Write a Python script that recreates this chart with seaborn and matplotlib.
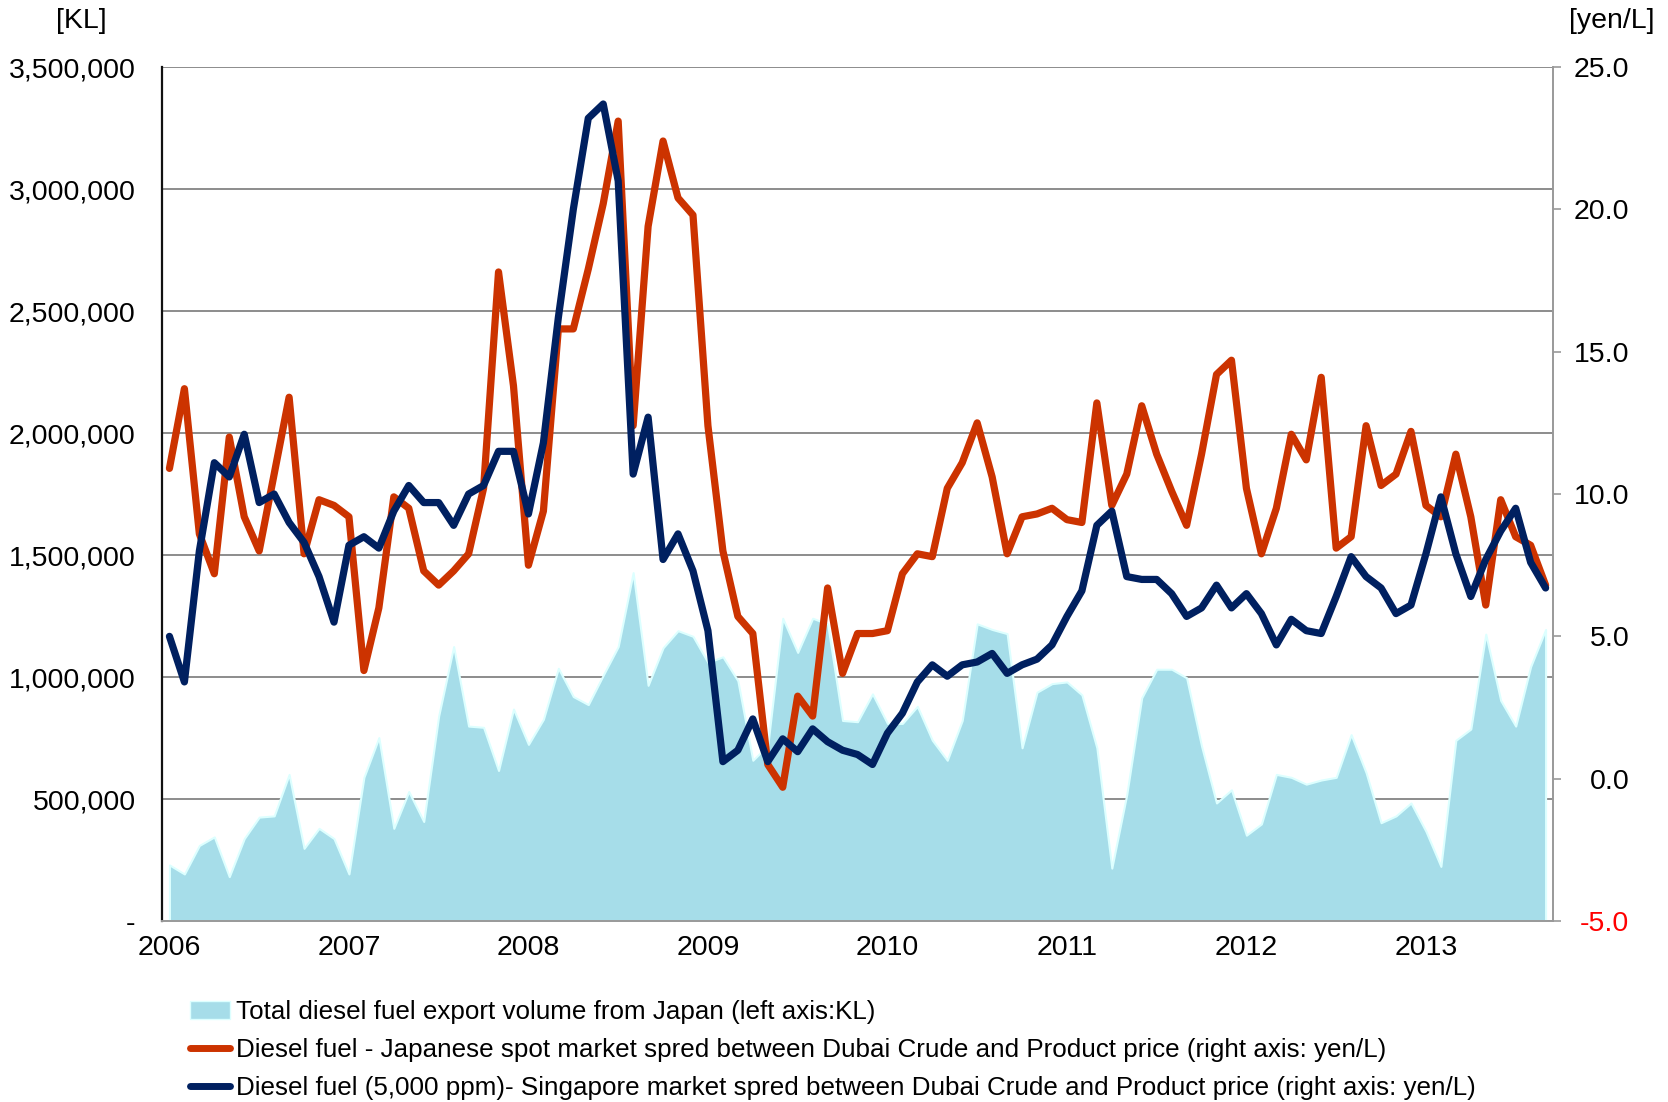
"""
Diesel fuel export volume from Japan vs. Dubai crude / product spreads,
monthly 2006-2013, redrawn with seaborn + matplotlib.
"""
import numpy as np
import pandas as pd
import matplotlib
matplotlib.use("Agg")
import matplotlib.pyplot as plt
import seaborn as sns
from matplotlib.lines import Line2D
from matplotlib.patches import Patch

# monthly data, Jan 2006 .. Sep 2013
volume_kl = [
    230, 193, 310, 345, 182, 338, 426, 431, 601, 298,
    380, 338, 193, 589, 752, 380, 531, 408, 841, 1125,
    799, 794, 617, 869, 724, 827, 1036, 920, 887, 1008,
    1125, 1428, 966, 1120, 1190, 1167, 1060, 1083, 985, 659,
    720, 1241, 1101, 1241, 1218, 822, 817, 931, 810, 810,
    880, 741, 659, 822, 1218, 1195, 1178, 710, 938, 973,
    980, 927, 710, 217, 519, 915, 1032, 1032, 997, 717,
    484, 538, 352, 398, 601, 589, 561, 578, 589, 764,
    608, 403, 431, 484, 368, 224, 741, 787, 1176, 904,
    799, 1043, 1195,
]
japan_spread = [
    10.9, 13.7, 8.6, 7.2, 12.0, 9.2, 8.0, 10.7, 13.4, 7.9,
    9.8, 9.6, 9.2, 3.8, 6.0, 9.9, 9.5, 7.3, 6.8, 7.3,
    7.9, 10.2, 17.8, 13.8, 7.5, 9.4, 15.8, 15.8, 17.9, 20.2,
    23.1, 12.4, 19.4, 22.4, 20.4, 19.8, 12.4, 8.0, 5.7, 5.1,
    0.5, -0.3, 2.9, 2.2, 6.7, 3.7, 5.1, 5.1, 5.2, 7.2,
    7.9, 7.8, 10.2, 11.1, 12.5, 10.6, 7.9, 9.2, 9.3, 9.5,
    9.1, 9.0, 13.2, 9.6, 10.7, 13.1, 11.4, 10.1, 8.9, 11.4,
    14.2, 14.7, 10.2, 7.9, 9.5, 12.1, 11.2, 14.1, 8.1, 8.5,
    12.4, 10.3, 10.7, 12.2, 9.6, 9.2, 11.4, 9.2, 6.1, 9.8,
    8.5, 8.2, 6.8,
]
singapore_spread = [
    5.0, 3.4, 8.0, 11.1, 10.6, 12.1, 9.7, 10.0, 9.0, 8.3,
    7.1, 5.5, 8.2, 8.5, 8.1, 9.4, 10.3, 9.7, 9.7, 8.9,
    10.0, 10.3, 11.5, 11.5, 9.3, 11.8, 16.2, 20.0, 23.2, 23.7,
    21.0, 10.7, 12.7, 7.7, 8.6, 7.3, 5.2, 0.6, 1.0, 2.1,
    0.6, 1.4, 0.95, 1.75, 1.3, 1.0, 0.85, 0.5, 1.6, 2.3,
    3.4, 4.0, 3.6, 4.0, 4.1, 4.4, 3.7, 4.0, 4.2, 4.7,
    5.7, 6.6, 8.9, 9.4, 7.1, 7.0, 7.0, 6.5, 5.7, 6.0,
    6.8, 6.0, 6.5, 5.8, 4.7, 5.6, 5.2, 5.1, 6.4, 7.8,
    7.1, 6.7, 5.8, 6.1, 7.9, 9.9, 7.9, 6.4, 7.7, 8.7,
    9.5, 7.6, 6.7,
]
year_labels = ["2006", "2007", "2008", "2009", "2010", "2011", "2012", "2013"]
left_ticks = [0, 500000, 1000000, 1500000, 2000000, 2500000, 3000000, 3500000]
right_ticks = [-5, 0, 5, 10, 15, 20, 25]

labels = [
    "Total diesel fuel export volume from Japan (left axis:KL)",
    "Diesel fuel - Japanese spot market spred between Dubai Crude and Product price (right axis: yen/L)",
    "Diesel fuel (5,000 ppm)- Singapore market spred between Dubai Crude and Product price (right axis: yen/L)",
]

AREA = "#a6dde9"
RED = "#cc3300"
NAVY = "#002060"
GRID = "#8c8c8c"
TICK_SIZE = 20.5


def main():
    df = pd.DataFrame({
        "month": np.arange(len(volume_kl)),
        "volume": np.array(volume_kl) * 1000,
        "japan": japan_spread,
        "singapore": singapore_spread,
    })

    sns.set_style("white")
    plt.rcParams["font.family"] = ["Liberation Sans", "DejaVu Sans"]
    plt.rcParams["text.color"] = "black"
    plt.rcParams["xtick.labelcolor"] = "black"
    plt.rcParams["ytick.labelcolor"] = "black"

    fig = plt.figure(figsize=(16.68, 11.02), dpi=100)
    ax = fig.add_axes([0.0971, 0.1642, 0.834, 0.775])
    ax2 = ax.twinx()

    # export volume area (left axis)
    ax.fill_between(df["month"], df["volume"], 0, color=AREA,
                    edgecolor="#ddffff", linewidth=1.5, zorder=2)
    ax.set_ylim(0, 3500000)
    ax.set_xlim(-0.5, len(df) - 0.5)
    ax.set_yticks(left_ticks)
    ax.set_yticklabels(["-" if v == 0 else f"{v:,}" for v in left_ticks])
    ax.yaxis.grid(True, color=GRID, linewidth=1.4)
    ax.set_axisbelow(True)
    ax.set_xticks(np.arange(0, len(df), 12))
    ax.set_xticklabels(year_labels)
    ax.tick_params(axis="y", length=0, pad=19, labelsize=TICK_SIZE, labelcolor="black")
    ax.tick_params(axis="x", length=0, pad=10, labelsize=TICK_SIZE, labelcolor="black")

    # spreads (right axis)
    sns.lineplot(data=df, x="month", y="japan", ax=ax2, color=RED,
                 linewidth=5.2, solid_joinstyle="round", solid_capstyle="round")
    sns.lineplot(data=df, x="month", y="singapore", ax=ax2, color=NAVY,
                 linewidth=5.2, solid_joinstyle="round", solid_capstyle="round")
    ax2.set_ylim(-5, 25)
    ax2.set_yticks(right_ticks)
    ax2.set_yticklabels([f"{v:.1f}" for v in right_ticks])
    ax2.tick_params(axis="y", length=6, width=1.2, color="#999999",
                    pad=49, labelsize=TICK_SIZE, direction="out", labelcolor="black")
    for lab in ax2.get_yticklabels():
        lab.set_horizontalalignment("right")
    ax2.get_yticklabels()[0].set_color("red")
    ax2.set_xlabel("")
    ax2.set_ylabel("")
    ax.set_xlabel("")
    ax.set_ylabel("")

    for a in (ax, ax2):
        for side in ("top", "left", "right", "bottom"):
            a.spines[side].set_visible(False)
    ax.spines["left"].set_visible(True)
    ax.spines["left"].set_color("#111111")
    ax.spines["left"].set_linewidth(1.6)
    ax.spines["bottom"].set_visible(True)
    ax.spines["bottom"].set_color("#999999")
    ax.spines["bottom"].set_linewidth(1.4)
    ax2.spines["right"].set_visible(True)
    ax2.spines["right"].set_color("#999999")
    ax2.spines["right"].set_linewidth(1.4)

    fig.text(0.049, 0.981, "[KL]", fontsize=TICK_SIZE, ha="center", va="center")
    fig.text(0.966, 0.981, "[yen/L]", fontsize=TICK_SIZE, ha="center", va="center")

    handles = [
        Patch(facecolor=AREA, edgecolor="#ddffff"),
        Line2D([], [], color=RED, linewidth=5, solid_capstyle="round"),
        Line2D([], [], color=NAVY, linewidth=5, solid_capstyle="round"),
    ]
    fig.legend(handles, labels, loc="upper left", bbox_to_anchor=(0.106, 0.104),
               frameon=False, borderpad=0, handlelength=1.55, handleheight=0.7,
               handletextpad=0.22, labelspacing=0.54,
               prop={"size": 18.7})

    fig.savefig("out.png", dpi=100)


if __name__ == "__main__":
    main()
